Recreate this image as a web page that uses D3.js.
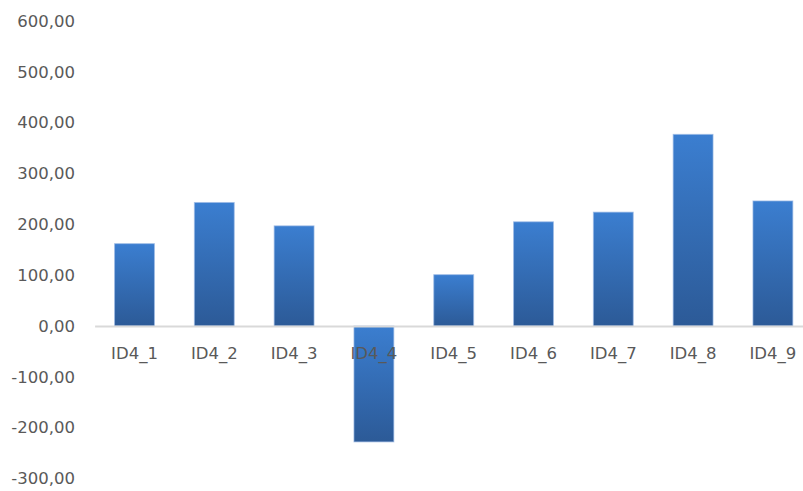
<!DOCTYPE html>
<html>
<head>
<meta charset="utf-8">
<script src="https://cdn.jsdelivr.net/npm/d3@7"></script>
<style>
  html, body { margin: 0; padding: 0; background: #ffffff; }
  svg { display: block; }
  text { font-family: "DejaVu Sans", Verdana, sans-serif; fill: #595959; }
</style>
</head>
<body>
<svg id="chart" width="803" height="491"></svg>
<script>
// Categories and their values
const categories = ["ID4_1", "ID4_2", "ID4_3", "ID4_4", "ID4_5", "ID4_6", "ID4_7", "ID4_8", "ID4_9"];
const values = [162, 243, 197, -228, 101, 205, 224, 377, 246];
// Value axis ticks
const yTicks = [600, 500, 400, 300, 200, 100, 0, -100, -200, -300];

const svg = d3.select("#chart");

const y = d3.scaleLinear().domain([-300, 600]).range([478.5, 21]);
const x = d3.scaleBand()
  .domain(categories)
  .range([94.6, 812.8])
  .paddingInner(0.5)
  .paddingOuter(0.25);

// Vertical gradient shared by all bars (light at top, darker at bottom)
const defs = svg.append("defs");
const grad = defs.append("linearGradient")
  .attr("id", "barGrad")
  .attr("x1", 0).attr("y1", 0).attr("x2", 0).attr("y2", 1);
grad.append("stop").attr("offset", "0%").attr("stop-color", "#3b7ed0");
grad.append("stop").attr("offset", "100%").attr("stop-color", "#2c5a97");

// Decimal comma, plain hyphen for negatives
const fmt = v => d3.format(".2f")(v).replace(".", ",").replace("\u2212", "-");

// Value axis labels (no axis line, no gridlines)
const yAxis = d3.axisLeft(y).tickValues(yTicks).tickSize(0).tickPadding(0).tickFormat(fmt);
const gy = svg.append("g").attr("transform", "translate(75,0)").call(yAxis);
gy.select(".domain").remove();
gy.selectAll("text")
  .style("font-family", "'DejaVu Sans', Verdana, sans-serif")
  .style("font-size", "16.5px")
  .attr("fill", "#5f5f5f");

// Bars
svg.append("g").selectAll("rect")
  .data(values)
  .join("rect")
  .attr("x", (d, i) => x(categories[i]))
  .attr("width", x.bandwidth())
  .attr("y", d => y(Math.max(0, d)))
  .attr("height", d => Math.abs(y(d) - y(0)))
  .attr("fill", "url(#barGrad)")
  .attr("stroke", "#9dbbe6")
  .attr("stroke-opacity", 0.7)
  .attr("stroke-width", 1);

// Category axis line at zero
const xAxis = d3.axisBottom(x).tickSize(0).tickPadding(0);
const gx = svg.append("g").attr("transform", `translate(0,${y(0)})`).call(xAxis);
gx.select(".domain")
  .attr("stroke", "#d9d9d9")
  .attr("stroke-width", 2);
gx.selectAll("text")
  .attr("dy", null)
  .attr("y", 33)
  .style("font-family", "'DejaVu Sans', Verdana, sans-serif")
  .style("font-size", "16.5px")
  .attr("fill", "#5f5f5f");
</script>
</body>
</html>
